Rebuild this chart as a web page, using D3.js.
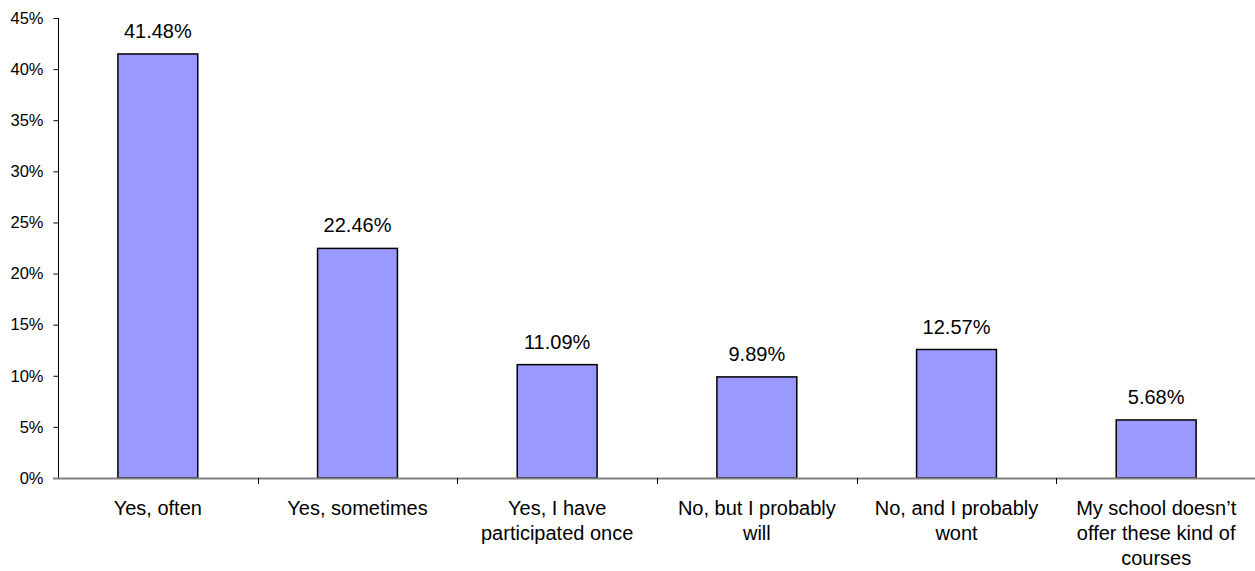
<!DOCTYPE html>
<html>
<head>
<meta charset="utf-8">
<script src="https://cdn.jsdelivr.net/npm/d3@7"></script>
<style>
  html, body { margin: 0; padding: 0; background: #fff; }
  svg { display: block; }
  text { font-family: "Liberation Sans", Arial, sans-serif; fill: #000; }
</style>
</head>
<body>
<svg id="chart" width="1255" height="571"></svg>
<script>
const categories = [
  "Yes, often",
  "Yes, sometimes",
  "Yes, I have\nparticipated once",
  "No, but I probably\nwill",
  "No, and I probably\nwont",
  "My school doesn\u2019t\noffer these kind of\ncourses"
];
const values = [41.48, 22.46, 11.09, 9.89, 12.57, 5.68];
const valueLabels = ["41.48%", "22.46%", "11.09%", "9.89%", "12.57%", "5.68%"];
const yTicks = [0, 5, 10, 15, 20, 25, 30, 35, 40, 45];

const svg = d3.select("#chart");
const plotLeft = 58, plotRight = 1256, plotTop = 18, plotBottom = 478;

const x = d3.scaleBand()
  .domain(categories)
  .range([plotLeft, plotRight])
  .paddingInner(0.6)
  .paddingOuter(0.3);

const y = d3.scaleLinear().domain([0, 45]).range([plotBottom, plotTop]);

// Bars
svg.append("g").selectAll("rect")
  .data(values)
  .join("rect")
  .attr("x", (d, i) => x(categories[i]))
  .attr("y", d => y(d))
  .attr("width", x.bandwidth())
  .attr("height", d => y(0) - y(d))
  .attr("fill", "#9999FF")
  .attr("stroke", "#000")
  .attr("stroke-width", 1.5);

// Value labels
svg.append("g").selectAll("text")
  .data(values)
  .join("text")
  .attr("x", (d, i) => x(categories[i]) + x.bandwidth() / 2)
  .attr("y", d => y(d) - 16)
  .attr("text-anchor", "middle")
  .attr("font-size", "20px")
  .text((d, i) => valueLabels[i]);

// Y axis
const yAxis = d3.axisLeft(y)
  .tickValues(yTicks)
  .tickFormat(d => d + "%")
  .tickSize(5)
  .tickPadding(10);
const gy = svg.append("g")
  .attr("transform", `translate(${plotLeft + 0.5},0)`)
  .call(yAxis);
gy.select(".domain").attr("stroke", "#000").attr("d", `M0,${plotTop}V${plotBottom}`);
gy.selectAll(".tick line").attr("stroke", "#000");
gy.selectAll(".tick text")
  .attr("font-size", "16.5px")
  .attr("font-family", "Liberation Sans, Arial, sans-serif")
  .attr("fill", "#000");

// X axis line
svg.append("line")
  .attr("x1", plotLeft - 5).attr("x2", 1255)
  .attr("y1", plotBottom + 0.5).attr("y2", plotBottom + 0.5)
  .attr("stroke", "#808080")
  .attr("stroke-width", 2);

// Category boundary ticks
const step = x.step();
const boundaries = d3.range(1, categories.length).map(i => plotLeft + i * step);
svg.append("g").selectAll("line")
  .data(boundaries)
  .join("line")
  .attr("x1", d => Math.round(d) + 0.5).attr("x2", d => Math.round(d) + 0.5)
  .attr("y1", plotBottom).attr("y2", plotBottom + 6)
  .attr("stroke", "#000");

// Category labels
const cat = svg.append("g").selectAll("text")
  .data(categories)
  .join("text")
  .attr("x", d => x(d) + x.bandwidth() / 2)
  .attr("y", 515)
  .attr("text-anchor", "middle")
  .attr("font-size", "20px");
cat.each(function(d) {
  const t = d3.select(this);
  const cx = x(d) + x.bandwidth() / 2;
  d.split("\n").forEach((line, i) => {
    t.append("tspan").attr("x", cx).attr("dy", i === 0 ? 0 : 25).text(line);
  });
});
</script>
</body>
</html>
